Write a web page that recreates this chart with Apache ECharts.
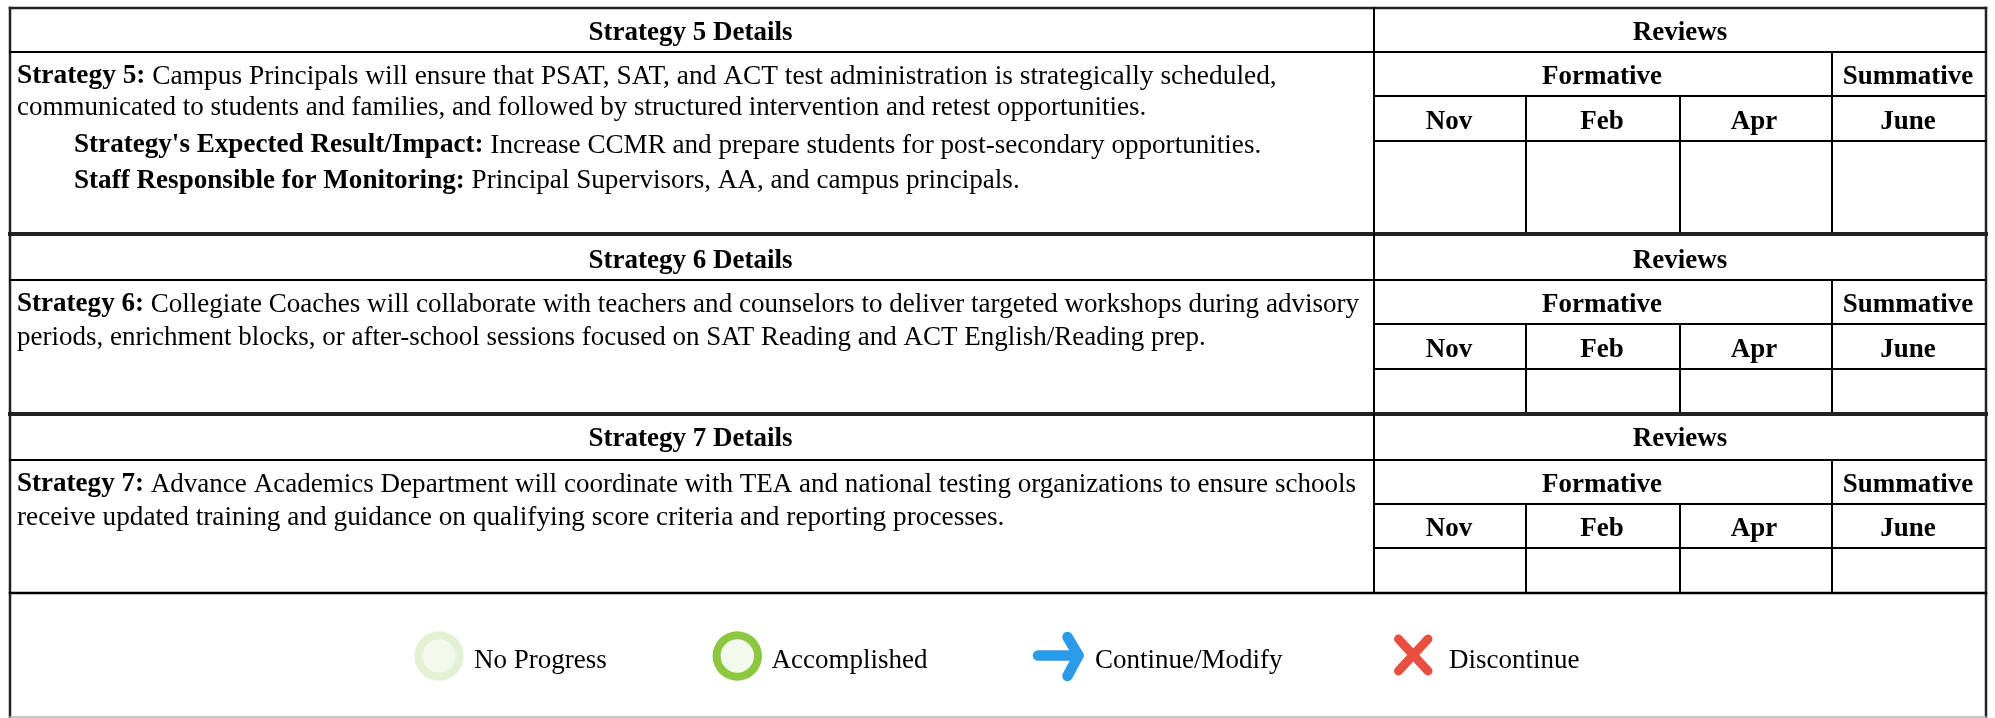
<!DOCTYPE html>
<html><head><meta charset="utf-8">
<style>html,body{margin:0;padding:0;background:#fff}#c{width:1995px;height:718px}</style>
<script src="https://cdn.jsdelivr.net/npm/echarts@6/dist/echarts.min.js"></script>
</head><body><div id="c"></div>
<script>
// ---- content ----
const headerTitles = ['Strategy 5 Details','Strategy 6 Details','Strategy 7 Details'];
const reviewsTitle = 'Reviews';
const groupTitles = ['Formative','Summative'];
const months = ['Nov','Feb','Apr','June'];
const strategy5Lines = [
  ['Strategy 5:','Campus Principals will ensure that PSAT, SAT, and ACT test administration is strategically scheduled,'],
  ['','communicated to students and families, and followed by structured intervention and retest opportunities.']
];
const strategy5Notes = [
  ["Strategy's Expected Result/Impact:",'Increase CCMR and prepare students for post-secondary opportunities.'],
  ['Staff Responsible for Monitoring:','Principal Supervisors, AA, and campus principals.']
];
const strategy6Lines = [
  ['Strategy 6:','Collegiate Coaches will collaborate with teachers and counselors to deliver targeted workshops during advisory'],
  ['','periods, enrichment blocks, or after-school sessions focused on SAT Reading and ACT English/Reading prep.']
];
const strategy7Lines = [
  ['Strategy 7:','Advance Academics Department will coordinate with TEA and national testing organizations to ensure schools'],
  ['','receive updated training and guidance on qualifying score criteria and reporting processes.']
];
const legendLabels = ['No Progress','Accomplished','Continue/Modify','Discontinue'];

// ---- layout (page pixels, mapped through hidden axes) ----
const W = 1995, H = 718, FS = 27, FONT = '"Liberation Serif","Times New Roman",serif';
const L = 10, R = 1986, MID = 1374, COLS = [1526, 1680, 1832];
const blocks = [
  {top: 8,   h1: 52,  h2: 96,  h3: 141, bottom: 234, head: 33.5, grp: 77.5, mon: 122},
  {top: 234, h1: 280, h2: 324, h3: 369, bottom: 414, head: 261,  grp: 305.5, mon: 350},
  {top: 414, h1: 460, h2: 504, h3: 548, bottom: 593, head: 439,  grp: 485.5, mon: 529.5}
];
const monthX = [1449, 1602, 1754, 1908];
const items = [];
const line = (x1,y1,x2,y2,w,c) => items.push({t:'line',x1,y1,x2,y2,w,c:c||'#000'});
const text = (x,y,s,align,bold) => items.push({t:'text',x,y,s,align,bold});
const rich = (x,y,pair,sx) => items.push({t:'rich',x,y,pair,sx:sx||1});

line(L,8,R,8,2.5,'#222');
line(L,8,L,717,2.5,'#222');
line(R,8,R,717,2.5,'#222');
line(L,717,R,717,1.5,'#b5b5b5');
blocks.forEach((b,i)=>{
  line(L,b.h1,R,b.h1,2);
  line(MID,b.h2,R,b.h2,2);
  line(MID,b.h3,R,b.h3,2);
  line(MID,b.top,MID,b.bottom,2);
  line(COLS[2],b.h1,COLS[2],b.bottom,2);
  line(COLS[0],b.h2,COLS[0],b.bottom,2);
  line(COLS[1],b.h2,COLS[1],b.bottom,2);
  line(L,b.bottom,R,b.bottom,i===2?2.5:4,i===2?'#000':'#222');
  text(690.5,b.head,headerTitles[i],'center',true);
  text(1680,b.head,reviewsTitle,'center',true);
  text(1602,b.grp,groupTitles[0],'center',true);
  text(1908,b.grp,groupTitles[1],'center',true);
  months.forEach((m,j)=>text(monthX[j],b.mon,m,'center',true));
});
const bodyX = 17, noteX = 74;
[[strategy5Lines,[76.5,107.5],[1.014,1]],[strategy6Lines,[304.5,337.5],[1.002,1]],[strategy7Lines,[484.5,517.5],[1.002,1.01]]].forEach(([ls,ys,sx])=>{
  ls.forEach((p,i)=>rich(bodyX,ys[i],p,sx[i]));
});
strategy5Notes.forEach((p,i)=>rich(noteX,[145.5,181][i],p,1.004));

const legendText = [474,771.5,1095,1449], legY = 661;
legendLabels.forEach((s,i)=>text(legendText[i],legY,s,'left',false));
items.push({t:'ring',x:439,y:656,ro:24.7,ri:16.7,o:'#e3f0d4',f:'#f2f8ec'});
items.push({t:'ring',x:737.3,y:656,ro:24.7,ri:16.7,o:'#8dc63f',f:'#f2f8ec'});
line(1038,655.5,1078,655.5,10.5,'#2b9be8');
line(1067.5,637,1078.5,655.5,10.5,'#2b9be8');
line(1067.5,676,1078.5,655.5,10.5,'#2b9be8');
line(1398.5,639,1428,671,9,'#e94f3f');
line(1428,639,1398.5,671,9,'#e94f3f');

// ---- chart ----
const chart = echarts.init(document.getElementById('c'),null,{renderer:'canvas'});
chart.setOption({
  backgroundColor:'#fff',
  animation:false,
  grid:{left:0,right:0,top:0,bottom:0},
  xAxis:{type:'value',min:0,max:W,show:false},
  yAxis:{type:'value',min:0,max:H,inverse:true,show:false},
  series:[{
    type:'custom',
    coordinateSystem:'cartesian2d',
    clip:false,
    data:items.map((d,i)=>[i]),
    encode:{x:0,y:0},
    renderItem(params,api){
      const d = items[api.value(0)];
      const P = (x,y)=>api.coord([x,y]);
      if(d.t==='line'){
        const a=P(d.x1,d.y1), b=P(d.x2,d.y2);
        const round = d.w>=8;
        return {type:'line',shape:{x1:a[0],y1:a[1],x2:b[0],y2:b[1]},
          style:{stroke:d.c,lineWidth:d.w,lineCap:round?'round':'square'}};
      }
      if(d.t==='ring'){
        const c=P(d.x,d.y);
        return {type:'group',children:[
          {type:'circle',shape:{cx:c[0],cy:c[1],r:d.ro},style:{fill:d.o}},
          {type:'circle',shape:{cx:c[0],cy:c[1],r:d.ri},style:{fill:d.f}}
        ]};
      }
      if(d.t==='text'){
        const c=P(d.x,d.y);
        return {type:'text',x:c[0],y:c[1],style:{text:d.s,align:d.align,verticalAlign:'middle',
          font:(d.bold?'bold ':'')+FS+'px '+FONT,fill:'#000'}};
      }
      const c=P(d.x,d.y);
      const str=(d.pair[0]?'{b|'+d.pair[0]+'} ':'')+'{r|'+d.pair[1]+'}';
      return {type:'text',x:c[0],y:c[1],scaleX:d.sx,style:{text:str,align:'left',verticalAlign:'middle',
        font:FS+'px '+FONT,fill:'#000',
        rich:{b:{font:'bold '+FS+'px '+FONT,fill:'#000'},r:{font:FS+'px '+FONT,fill:'#000'}}}};
    }
  }]
});
</script></body></html>
